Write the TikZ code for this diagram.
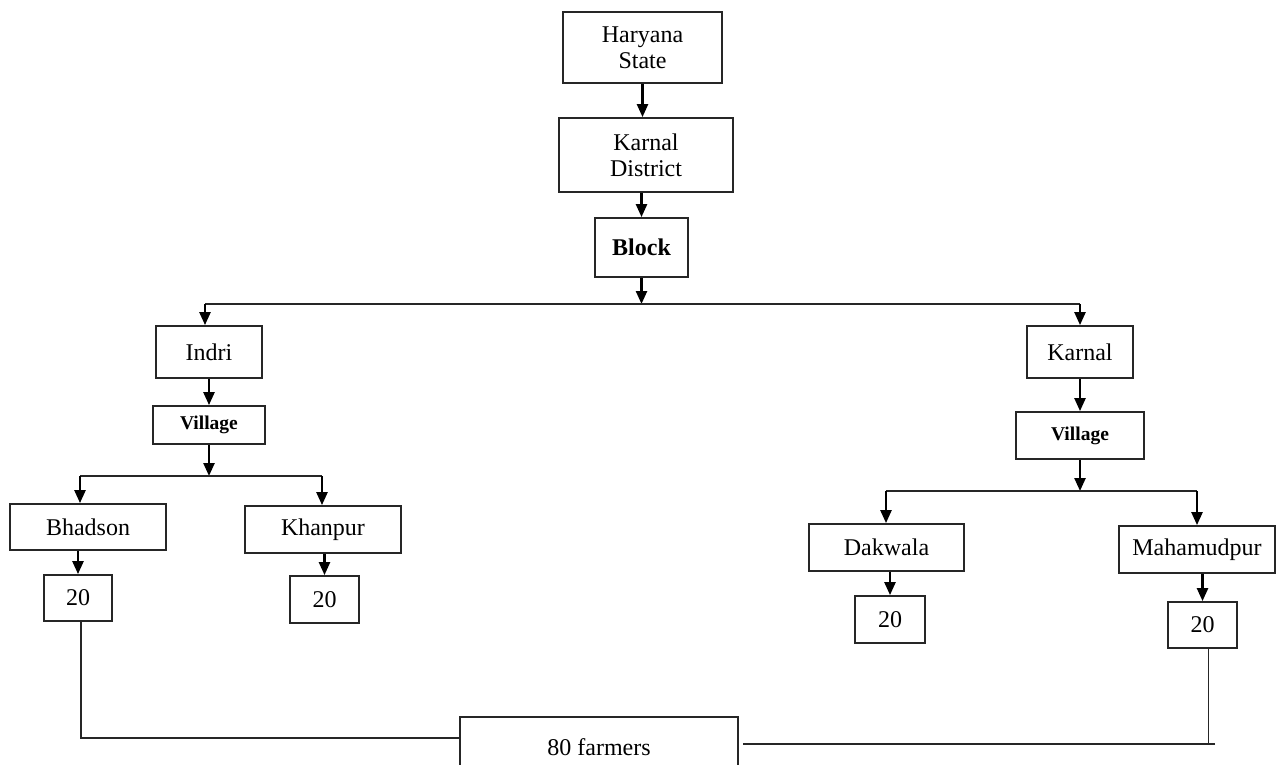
\documentclass[tikz,border=0pt]{standalone}
\usepackage{fontspec}
\setmainfont{Liberation Serif}
\usetikzlibrary{arrows.meta}
\begin{document}
\begin{tikzpicture}[x=1pt,y=-1pt,
  box/.style={draw=black!85,line width=1.8pt,fill=white,rectangle,inner sep=0pt,align=center,
    font=\fontsize{24}{26}\selectfont},
  vbox/.style={box,font=\fontsize{19.5}{22}\selectfont\bfseries},
  arr/.style={line width=2.4pt,-{Triangle[width=11pt,length=13pt]}},
  ln/.style={line width=2.2pt,draw=black!85},
  thin/.style={line width=1.3pt,draw=black!85}]
\clip (0,0) rectangle (1276,765);
\fill[white] (0,0) rectangle (1276,765);
% top chain
\node[box,minimum width=159pt,minimum height=71pt] (hs) at (642.5,47.5) {Haryana\\State};
\node[box,minimum width=174pt,minimum height=74pt] (kd) at (646,155) {Karnal\\District};
\node[box,minimum width=93pt,minimum height=59pt,font=\fontsize{24}{26}\selectfont\bfseries] (blk) at (641.5,247.5) {Block};
% left branch
\node[box,minimum width=106pt,minimum height=52pt] (indri) at (209,352) {Indri};
\node[vbox,minimum width=112pt,minimum height=38pt] (vl) at (209,425) {Village};
\node[box,minimum width=156pt,minimum height=46pt] (bh) at (88,527) {Bhadson};
\node[box,minimum width=156pt,minimum height=47pt] (kh) at (323,529.5) {Khanpur};
\node[box,minimum width=68pt,minimum height=46pt] (n1) at (78,598) {20};
\node[box,minimum width=69pt,minimum height=47pt] (n2) at (324.5,599.5) {20};
% right branch
\node[box,minimum width=106pt,minimum height=52pt] (karnal) at (1080,352) {Karnal};
\node[vbox,minimum width=128pt,minimum height=47pt] (vr) at (1080,435.5) {Village};
\node[box,minimum width=155pt,minimum height=47pt] (dk) at (886.5,547.5) {Dakwala};
\node[box,minimum width=156pt,minimum height=47pt] (mh) at (1197,549.5) {Mahamudpur};
\node[box,minimum width=70pt,minimum height=47pt] (n3) at (890,619.5) {20};
\node[box,minimum width=69pt,minimum height=46pt] (n4) at (1202.5,625) {20};
% bottom
\node[box,minimum width=278pt,minimum height=60pt] (far) at (599,747) {80 farmers};
% junction coordinates
\coordinate (bj) at (641.5,304);
\coordinate (bl) at (205,304);
\coordinate (br) at (1080,304);
\coordinate (vlj) at (209,476);
\coordinate (vll) at (80,476);
\coordinate (vlr) at (322,476);
\coordinate (vrj) at (1080,491);
\coordinate (vrl) at (886,491);
\coordinate (vrr) at (1197,491);
\coordinate (jr) at (1215,744);
% connectors
\draw[arr] (hs.south) -- (hs.south |- kd.north);
\draw[arr] (kd.south -| blk.north) -- (blk);
\draw[arr] (blk) -- (bj);
\draw[ln] (bl) -- (br);
\draw[arr] (bl) -- (bl |- indri.north);
\draw[arr] (br) -- (karnal.north);
\draw[arr] (indri) -- (vl);
\draw[arr] (vl) -- (vlj);
\draw[ln] (vll) -- (vlr);
\draw[arr] (vll) -- (vll |- bh.north);
\draw[arr] (vlr) -- (vlr |- kh.north);
\draw[arr] (bh.south -| n1.north) -- (n1);
\draw[arr] (kh.south -| n2.north) -- (n2);
\draw[arr] (karnal) -- (vr);
\draw[arr] (vr) -- (vrj);
\draw[ln] (vrl) -- (vrr);
\draw[arr] (vrl) -- (vrl |- dk.north);
\draw[arr] (vrr) -- (vrr |- mh.north);
\draw[arr] (dk.south -| n3.north) -- (n3);
\draw[arr] (mh.south -| n4.north) -- (n4);
\draw[thin] ([xshift=3pt]n1.south) |- ([yshift=9pt]far.west);
\draw[thin] ([xshift=6pt]n4.south) -- ([xshift=6pt]n4.south |- jr);
\draw[thin] (jr) -- ([xshift=4pt,yshift=3pt]far.east);
\end{tikzpicture}
\end{document}
